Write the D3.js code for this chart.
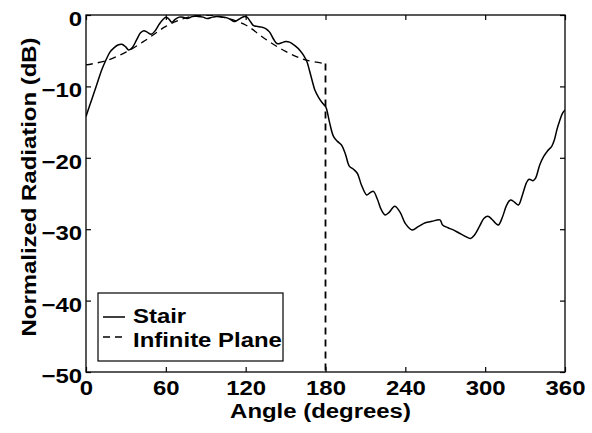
<!DOCTYPE html>
<html><head><meta charset="utf-8">
<script src="https://cdn.jsdelivr.net/npm/d3@7"></script>
<style>
body{margin:0;background:#fff}
text{font-family:"Liberation Sans",Arial,Helvetica,sans-serif;font-weight:bold;fill:#000}
</style>
</head><body>
<svg id="c" width="592" height="433"></svg>
<script>
const xTicks=[0,60,120,180,240,300,360];
const yTicks=[0,-10,-20,-30,-40,-50];
const stairAngle=[0,4,8,12,15,18,21,24,27,30,32,35,38,41,43.5,46,49,52,55,58,60,62,64.5,67,70,73,76,80,84,88,91,95,98,102,106,110,112,115,119,121,123.5,126,129,132,135,138,141,143.5,147,150,153,157,161,164,166,168,170,172,175,178,180,181,183,186,189,192,195,198,201,204,207,211,213.5,216,219,222,225,228,232,236,240,245,250,255,260,266,268,272,276,280,285,289,292,296,299,302,305,308,310,313,316,319,322,325,328,331,333,336,338,341,344,347,350,352,354,356,358,360];
const stairDb=[-14.2,-12.0,-9.8,-7.6,-6.3,-5.2,-4.6,-4.2,-4.1,-4.5,-4.9,-4.5,-3.5,-2.5,-2.2,-2.4,-2.7,-2.2,-1.3,-0.6,-0.3,-0.5,-1.0,-0.6,-0.3,-0.3,-0.5,-0.2,-0.2,-0.3,-0.5,-0.3,-0.2,-0.3,-0.4,-0.8,-0.9,-0.6,-0.2,-0.3,-0.9,-1.5,-1.6,-1.7,-1.9,-2.4,-3.4,-4.0,-3.9,-3.7,-3.8,-4.3,-5.0,-5.8,-6.5,-7.8,-9.2,-10.5,-11.6,-12.4,-12.8,-13.3,-15.0,-17.0,-17.7,-18.2,-19.5,-21.2,-21.6,-22.2,-23.8,-25.2,-24.9,-24.7,-25.8,-27.3,-28.0,-27.6,-26.8,-27.6,-29.2,-30.1,-29.6,-29.1,-28.9,-28.7,-29.4,-29.8,-30.1,-30.5,-31.0,-31.3,-30.8,-29.5,-28.5,-28.2,-28.6,-29.2,-29.4,-28.3,-26.7,-25.9,-26.2,-26.6,-25.2,-23.5,-23.0,-23.2,-22.8,-21.0,-19.8,-19.0,-18.4,-17.5,-16.0,-14.8,-13.8,-13.3];
const planeAngle=[0,15,30,45,60,75,90,105,120,135,150,165,180];
const planeDb=[-7.0,-6.4,-5.2,-3.5,-1.6,-0.4,0,-0.4,-1.4,-3.4,-5.1,-6.3,-6.8];
const planeDropAngle=[180,180];
const planeDropDb=[-6.8,-50];
const legendLabels=["Stair","Infinite Plane"];

const svg=d3.select("#c");
const L=86,R=565,T=15,B=372;
const x=d3.scaleLinear().domain([0,360]).range([L,R]);
const y=d3.scaleLinear().domain([-50,0]).range([B,T]);
const SX=1.14;
const fmt=d=>String(d).replace("-","\u2212");

svg.append("defs").append("clipPath").attr("id","clip").append("rect")
  .attr("x",L).attr("y",T).attr("width",R-L).attr("height",B-T);

// axes
const gb=svg.append("g").attr("transform",`translate(0,${B})`)
  .call(d3.axisBottom(x).tickValues(xTicks).tickSize(-5).tickPadding(8).tickFormat(fmt).tickSizeOuter(0));
const gl=svg.append("g").attr("transform",`translate(${L},0)`)
  .call(d3.axisLeft(y).tickValues(yTicks).tickSize(-5).tickPadding(3.5).tickFormat(fmt).tickSizeOuter(0));
const gt=svg.append("g").attr("transform",`translate(0,${T})`)
  .call(d3.axisTop(x).tickValues(xTicks).tickSize(-5).tickFormat("").tickSizeOuter(0));
const gr=svg.append("g").attr("transform",`translate(${R},0)`)
  .call(d3.axisRight(y).tickValues(yTicks).tickSize(-5).tickFormat("").tickSizeOuter(0));
[gb,gl,gt,gr].forEach(g=>{g.select(".domain").remove();g.selectAll("line").attr("stroke","#000").attr("stroke-width",1.2);
  g.selectAll("text").attr("font-family",null).attr("font-size",null).style("font-size","21px").attr("fill","#000");});
gb.selectAll("text").attr("transform",`scale(${SX},1)`);
gl.selectAll("text").attr("transform",`scale(${SX},1)`).attr("dy","0.5em");

// curves
const pl=d3.line().x(d=>x(d[0])).y(d=>y(d[1])).curve(d3.curveCatmullRom.alpha(0.5));
const ln=d3.line().x(d=>x(d[0])).y(d=>y(d[1]));
const cg=svg.append("g").attr("clip-path","url(#clip)");
cg.append("path").datum(planeAngle.map((a,i)=>[a,planeDb[i]])).attr("d",pl)
  .attr("fill","none").attr("stroke","#000").attr("stroke-width",1.3).attr("stroke-dasharray","7,5");
cg.append("path").datum(planeDropAngle.map((a,i)=>[a,planeDropDb[i]])).attr("d",ln)
  .attr("fill","none").attr("stroke","#000").attr("stroke-width",1.8).attr("stroke-dasharray","7,5");
cg.append("path").datum(stairAngle.map((a,i)=>[a,stairDb[i]])).attr("d",pl)
  .attr("fill","none").attr("stroke","#000").attr("stroke-width",1.5);

// frame
svg.append("rect").attr("x",L).attr("y",T).attr("width",R-L).attr("height",B-T)
  .attr("fill","none").attr("stroke","#000").attr("stroke-width",1.3);

// labels
svg.append("text").attr("transform",`translate(320.5,418) scale(${SX},1)`).attr("text-anchor","middle")
  .style("font-size","21px").text("Angle (degrees)");
svg.append("text").attr("transform",`translate(36,187) rotate(-90) scale(${SX},1)`).attr("text-anchor","middle")
  .style("font-size","21px").text("Normalized Radiation (dB)");

// legend
const lg=svg.append("g");
lg.append("rect").attr("x",98).attr("y",293).attr("width",185).attr("height",68)
  .attr("fill","#fff").attr("stroke","#000").attr("stroke-width",1.2);
lg.append("line").attr("x1",103).attr("x2",125).attr("y1",317).attr("y2",317).attr("stroke","#000").attr("stroke-width",1.5);
lg.append("line").attr("x1",103).attr("x2",125).attr("y1",337).attr("y2",337).attr("stroke","#000").attr("stroke-width",1.3).attr("stroke-dasharray","7,5");
lg.selectAll("text.lt").data(legendLabels).join("text").attr("class","lt")
  .attr("transform",(d,i)=>`translate(133,${323+i*24}) scale(${SX},1)`)
  .style("font-size","21px").text(d=>d);
</script>
</body></html>
